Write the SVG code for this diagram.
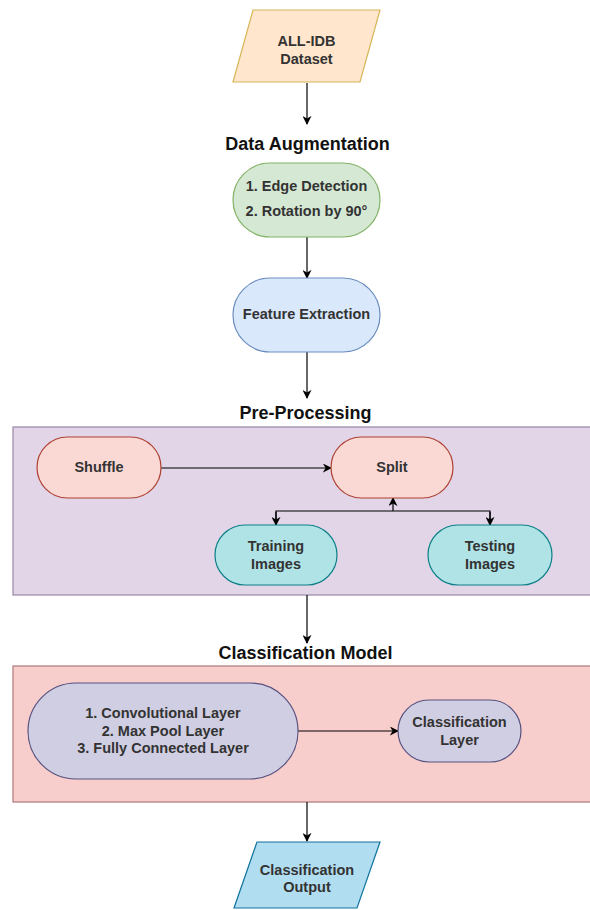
<svg xmlns="http://www.w3.org/2000/svg" width="590" height="910" viewBox="0 0 590 910">
<style>
text{font-family:"Liberation Sans",Arial,sans-serif;text-anchor:middle}
.t{font-size:14.5px;font-weight:bold;fill:#333}
.h{font-size:18px;font-weight:bold;fill:#111}
.c{stroke:#000;stroke-width:1.2;fill:none}
</style>
<defs>
<marker id="a" viewBox="0 0 10 10" refX="9" refY="5" markerWidth="9" markerHeight="9" markerUnits="userSpaceOnUse" orient="auto">
<path d="M0,0 L10,5 L0,10 L3,5 Z" fill="#000"/>
</marker>
</defs>
<rect width="590" height="910" fill="#fff"/>
<g id="preprocessing-container">
<rect x="13" y="427" width="590" height="168" fill="#e1d5e7" stroke="#9a86a6" stroke-width="1.2"/>
</g>
<g id="classification-container">
<rect x="13" y="666" width="590" height="136" fill="#f8cecc" stroke="#b07878" stroke-width="1.2"/>
</g>
<g id="labels">
<text class="h" x="307.5" y="150">Data Augmentation</text>
<text class="h" x="305.5" y="419">Pre-Processing</text>
<text class="h" x="305.5" y="659">Classification Model</text>
</g>
<g id="connectors">
<line class="c" x1="307" y1="83" x2="307" y2="124" marker-end="url(#a)"/>
<line class="c" x1="307" y1="237" x2="307" y2="278" marker-end="url(#a)"/>
<line class="c" x1="307" y1="352" x2="307" y2="398" marker-end="url(#a)"/>
<line class="c" x1="161" y1="468" x2="331" y2="468" marker-end="url(#a)"/>
<line class="c" x1="393" y1="511" x2="393" y2="498" marker-end="url(#a)"/>
<polyline class="c" points="276,525 276,511 490,511 490,525"/>
<line class="c" x1="276" y1="512" x2="276" y2="525" marker-end="url(#a)"/>
<line class="c" x1="490" y1="512" x2="490" y2="525" marker-end="url(#a)"/>
<line class="c" x1="307" y1="595" x2="307" y2="643" marker-end="url(#a)"/>
<line class="c" x1="298" y1="731" x2="398" y2="731" marker-end="url(#a)"/>
<line class="c" x1="307" y1="802" x2="307" y2="841" marker-end="url(#a)"/>
</g>
<g id="dataset">
<polygon points="253,10 380,10 360,82 233,82" fill="#ffe6cc" stroke="#d6b656" stroke-width="1.2"/>
<text class="t" x="306.5" y="46">ALL-IDB</text>
<text class="t" x="306.5" y="64">Dataset</text>
</g>
<g id="augmentation">
<rect x="233" y="163" width="147" height="74" rx="37" fill="#d5e8d4" stroke="#82b366" stroke-width="1.2"/>
<text class="t" x="306.5" y="191">1. Edge Detection</text>
<text class="t" x="306.5" y="216">2. Rotation by 90°</text>
</g>
<g id="feature-extraction">
<rect x="233" y="278" width="147" height="74" rx="37" fill="#dae8fc" stroke="#6c8ebf" stroke-width="1.2"/>
<text class="t" x="306.5" y="319">Feature Extraction</text>
</g>
<g id="shuffle">
<rect x="37" y="437" width="124" height="61" rx="30.5" fill="#fad9d5" stroke="#ae4132" stroke-width="1.2"/>
<text class="t" x="99" y="472">Shuffle</text>
</g>
<g id="split">
<rect x="331" y="437" width="122" height="61" rx="30.5" fill="#fad9d5" stroke="#ae4132" stroke-width="1.2"/>
<text class="t" x="392" y="472">Split</text>
</g>
<g id="training">
<rect x="215" y="525" width="122" height="60" rx="30" fill="#b0e3e6" stroke="#0e8088" stroke-width="1.2"/>
<text class="t" x="276" y="551">Training</text>
<text class="t" x="276" y="569">Images</text>
</g>
<g id="testing">
<rect x="428" y="525" width="124" height="60" rx="30" fill="#b0e3e6" stroke="#0e8088" stroke-width="1.2"/>
<text class="t" x="490" y="551">Testing</text>
<text class="t" x="490" y="569">Images</text>
</g>
<g id="cnn-layers">
<rect x="28" y="683" width="270" height="96" rx="48" fill="#d0cee2" stroke="#56517e" stroke-width="1.2"/>
<text class="t" x="163" y="718">1. Convolutional Layer</text>
<text class="t" x="163" y="736">2. Max Pool Layer</text>
<text class="t" x="163" y="753">3. Fully Connected Layer</text>
</g>
<g id="classification-layer">
<rect x="398" y="700" width="123" height="62" rx="31" fill="#d0cee2" stroke="#56517e" stroke-width="1.2"/>
<text class="t" x="459.5" y="727">Classification</text>
<text class="t" x="459.5" y="745">Layer</text>
</g>
<g id="output">
<polygon points="257,842 380,842 357,908 234,908" fill="#b1ddf0" stroke="#10739e" stroke-width="1.2"/>
<text class="t" x="307" y="875">Classification</text>
<text class="t" x="307" y="892">Output</text>
</g>
</svg>
